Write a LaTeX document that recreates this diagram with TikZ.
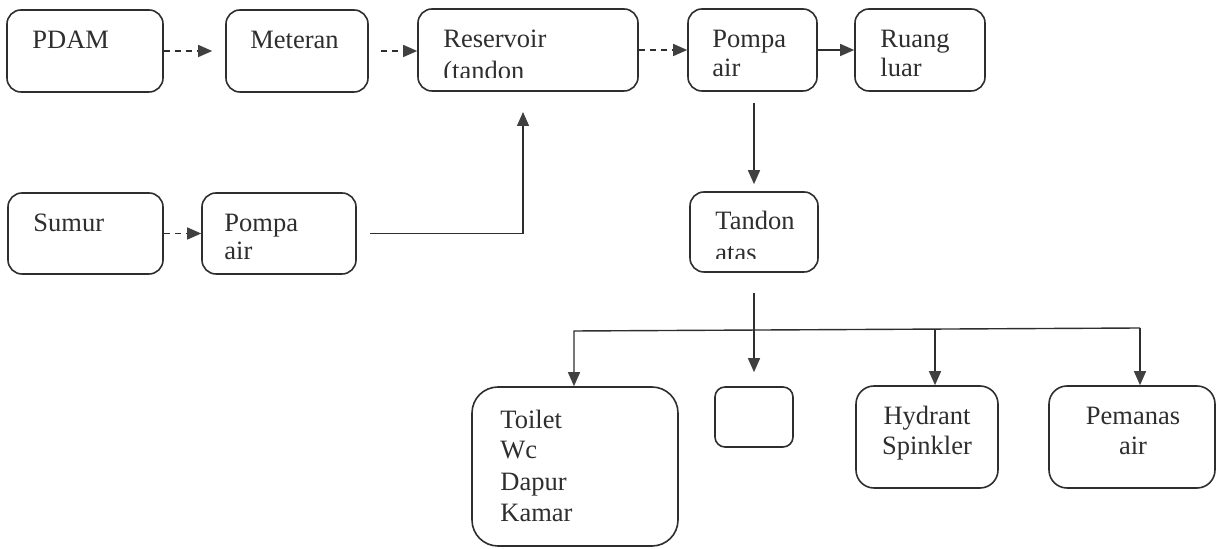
\documentclass[tikz,border=0pt]{standalone}
\usepackage{fontspec}
\setmainfont{Liberation Serif}
\usetikzlibrary{arrows.meta,fit}

\definecolor{ink}{HTML}{2E2E2E}
\definecolor{tipink}{HTML}{404040}

\tikzset{
  box/.style={draw=ink, line width=0.8pt, rounded corners=7pt, inner sep=0pt},
  lbl/.style={inner sep=0pt, anchor=base west, text=ink,
              font=\fontsize{13.25}{16}\selectfont},
  lblc/.style={lbl, anchor=base},
  flow/.style={draw=ink, line width=0.7pt,
               -{Triangle[length=7pt,width=6pt,color=tipink,fill=tipink]}},
  dflow/.style={flow, dash pattern=on 3pt off 2.5pt},
}

\begin{document}
\begin{tikzpicture}[x=0.5pt,y=-0.5pt]
  \useasboundingbox (0,0) rectangle (1216,549);

  % ---- top row
  \node[box, fit={(7,10) (163,92)}] (pdam) {};
  \node[box, fit={(226,10) (368,92)}] (meteran) {};
  \node[box, fit={(418,9) (638,91)}] (reservoir) {};
  \node[box, fit={(688,9) (817,91)}] (pompa) {};
  \node[box, fit={(855,9) (985,91)}] (ruang) {};

  \node[lbl] (t-pdam) at (32,49) {PDAM};
  \node[lbl] (t-meteran) at (250,49) {Meteran};
  \node[lbl] (t-res1) at (443,48) {Reservoir};
  % second line is cut off by the text frame
  \begin{scope}
    \clip (420,55) rectangle (636,77.5);
    \node[lbl] (t-res2) at (443,80) {(tandon};
  \end{scope}
  \node[lbl] (t-pompa1) at (712,48) {Pompa};
  \node[lbl] (t-pompa2) at (712,77) {air};
  \node[lbl] (t-ruang1) at (880,48) {Ruang};
  \node[lbl] (t-ruang2) at (880,77) {luar};

  % ---- well branch
  \node[box, fit={(8,193) (163,274)}] (sumur) {};
  \node[box, fit={(202,193) (356,274)}] (pompab) {};
  \node[lbl] (t-sumur) at (33,232) {Sumur};
  \node[lbl] (t-pompab1) at (224,232) {Pompa};
  \node[lbl] (t-pompab2) at (224,260) {air};

  % ---- roof tank
  \node[box, fit={(690,192) (818,272)}] (tandon) {};
  \node[lbl] (t-tandon1) at (715,230) {Tandon};
  \begin{scope}
    \clip (692,236) rectangle (816,259);
    \node[lbl] (t-tandon2) at (715,262) {atas};
  \end{scope}

  % ---- consumers
  \node[box, rounded corners=13pt, fit={(472,387) (678,546)}] (toilet) {};
  \node[box, rounded corners=5pt, fit={(715,387) (793,447)}] (blank) {};
  \node[box, rounded corners=9pt, fit={(856,386) (998,488)}] (hydrant) {};
  \node[box, rounded corners=9pt, fit={(1049,386) (1215,488)}] (pemanas) {};

  \node[lbl] (t-toilet1) at (500,429) {Toilet};
  \node[lbl] (t-toilet2) at (500,459) {Wc};
  \node[lbl] (t-toilet3) at (500,491) {Dapur};
  \node[lbl] (t-toilet4) at (500,522) {Kamar};
  \node[lblc] (t-hyd1) at (927,425) {Hydrant};
  \node[lblc] (t-hyd2) at (927,455) {Spinkler};
  \node[lblc] (t-pem1) at (1133,425) {Pemanas};
  \node[lblc] (t-pem2) at (1133,455) {air};

  % ---- connectors, top row
  \draw[dflow, shorten >=6.5pt] (pdam.east) -- (meteran.west);
  \draw[dflow, shorten <=6pt] (meteran.east) -- (meteran.east -| reservoir.west);
  \draw[dflow] (reservoir.east) -- (reservoir.east -| pompa.west);
  \draw[flow] (pompa.east) -- (pompa.east -| ruang.west);

  % ---- well to reservoir
  \draw[dflow] (sumur.east) -- (sumur.east -| pompab.west);
  \coordinate (resin) at (523,91);
  \draw[flow, shorten <=6.5pt, shorten >=10.5pt] (pompab.east) -| (resin);

  % ---- pump to roof tank, roof tank down
  \coordinate (pdown) at (754,91);
  \draw[flow, shorten <=6pt, shorten >=3.5pt] (pdown) -- (pdown |- tandon.north);
  \draw[flow, shorten <=10pt, shorten >=7pt] (tandon.south) -- (blank.north);

  % ---- distribution header
  \coordinate (hl) at (574,331);
  \coordinate (hh) at (935,329);
  \coordinate (hr) at (1140,328);
  \draw[flow] (hr) -- (hl) -- (hl |- toilet.north);
  \draw[flow] (hh) -- (hh |- hydrant.north);
  \draw[flow] (hr) -- (hr |- pemanas.north);
\end{tikzpicture}
\end{document}
